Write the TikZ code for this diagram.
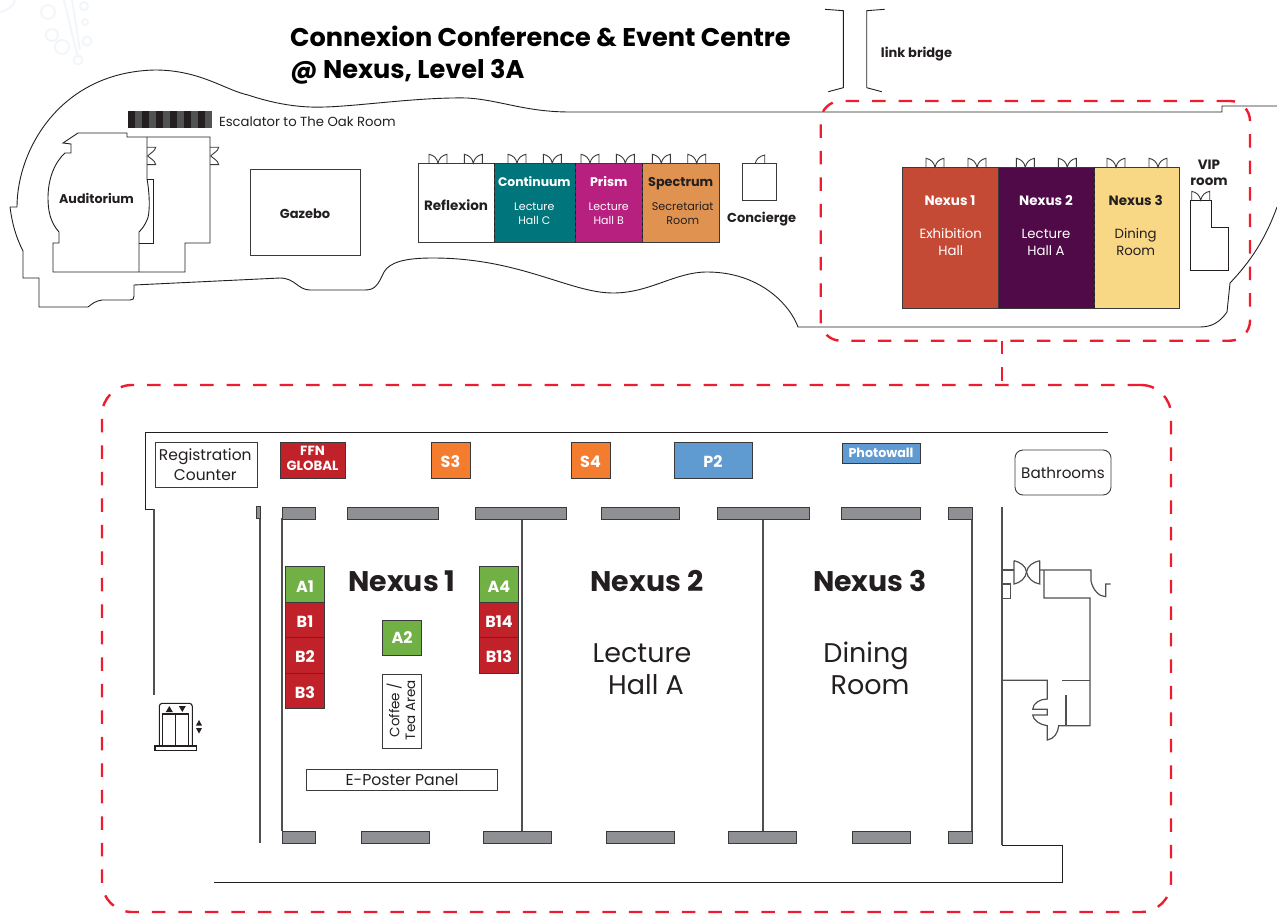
\documentclass[tikz,border=0pt]{standalone}
\usepackage{fontspec}
\setmainfont{Poppins}
\definecolor{ink}{HTML}{231F20}
\definecolor{wall}{HTML}{3A3A3C}
\definecolor{lowwall}{HTML}{505052}
\definecolor{redframe}{HTML}{ED1C2E}
\definecolor{cNexusA}{HTML}{C44A36}
\definecolor{cNexusB}{HTML}{4F0A47}
\definecolor{cNexusC}{HTML}{F8D785}
\definecolor{cCont}{HTML}{00757C}
\definecolor{cPrism}{HTML}{B82080}
\definecolor{cSpec}{HTML}{E09350}
\definecolor{cGreen}{HTML}{70B044}
\definecolor{cRed}{HTML}{C12128}
\definecolor{cOrange}{HTML}{F37C2F}
\definecolor{cBlue}{HTML}{5F9BD0}
\definecolor{cGrey}{HTML}{8F9094}
\definecolor{cFlake}{HTML}{F2F6FA}
\tikzset{
  wallline/.style={draw=lowwall,line width=1.2pt},
  thinline/.style={draw=ink,line width=0.9pt},
  boxed/.style={draw=wall,line width=0.9pt,inner sep=0pt,outer sep=0pt},
  pillar/.style={boxed,fill=cGrey},
  frame/.style={draw=redframe,line width=2.4pt,dash pattern=on 13.5pt off 13pt,inner sep=0pt,outer sep=0pt},
  lbl/.style={anchor=base,inner sep=0pt,outer sep=0pt,text=ink},
  bdoor/.pic={\draw[draw=wall,line width=0.9pt,fill=none] (0,0) -- (0,-9) .. controls (5,-8) and (8,-5) .. (9,0) .. controls (10,-5) and (13,-8) .. (18,-9) -- (18,0);},
  sdoor/.pic={\draw[draw=wall,line width=0.9pt] (0,0) -- (8.7,0) .. controls (8,4) and (3,6) .. (0.7,8.7) .. controls (3,11) and (8,13) .. (8.7,17.4) -- (0,17.4);}
}
\newcommand{\bx}[7]{\node[#6,minimum width={(#4-#2)*1pt},minimum height={(#5-#3)*1pt}] (#1) at ({(#2+#4)/2},{(#3+#5)/2}) {#7};}
\newcommand{\tx}[5]{\node[lbl,#4] (#1) at (#2,#3) {#5};}
\newcommand{\bfs}[1]{\fontsize{#1}{#1}\selectfont\bfseries}
\newcommand{\rgs}[1]{\fontsize{#1}{#1}\selectfont}
\begin{document}
\begin{tikzpicture}[x=1pt,y=-1pt]
\useasboundingbox (0,0) rectangle (1277,915);
% faint ornament
\begin{scope}[draw=cFlake,line width=2pt]
\draw (64,0) -- (78,58); \draw (72,0) -- (80,50);
\draw (48,12) circle (7); \draw (52,35) circle (6); \draw (62,47) circle (7);
\draw (87,41) circle (4.5); \draw (85,22) circle (3); \draw (84,6) circle (4); \draw (78,60) circle (4.5);
\draw (0,12) .. controls (8,10) and (14,6) .. (15,0);
\end{scope}
% building outline
\draw[thinline] (10,207) -- (17,207)
  .. controls (17,150) and (60,72) .. (155,70)
  .. controls (200,70) and (225,90) .. (248,95)
  .. controls (275,104) and (300,108) .. (325,107)
  .. controls (360,106) and (420,97) .. (467,98)
  .. controls (500,100) and (525,112) .. (570,112)
  -- (1222,112) -- (1222,106) -- (1277,106);
\draw[thinline] (1277,207) .. controls (1265,240) and (1250,262) .. (1230,283)
  -- (1227,312) .. controls (1220,322) and (1212,327) .. (1200,327) -- (798,327)
  .. controls (790,305) and (760,272) .. (707,272)
  .. controls (675,272) and (650,293) .. (613,293)
  .. controls (570,293) and (520,258) .. (433,258)
  .. controls (405,258) and (390,262) .. (384,272)
  .. controls (378,285) and (375,290) .. (365,290)
  -- (310,290) .. controls (298,290) and (295,278) .. (280,278)
  -- (134,285) -- (134,296) .. controls (134,299) and (133,300) .. (130,300)
  -- (102,300) .. controls (95,301) and (92,304) .. (88,307)
  -- (39,307) -- (39,278) -- (23,278) -- (23,251) .. controls (15,235) and (12,222) .. (10,207);
% link bridge
\draw[thinline] (825,9.3) -- (843.3,10.7) -- (843.3,87.7) -- (828.3,91.7);
\draw[thinline] (884.7,9.3) -- (866.7,10.7) -- (866.7,87.7) -- (881.7,91.7);
\tx{linkt}{916.5}{58}{}{\bfs{13}link bridge}
% auditorium block
\draw[thinline] (78,133) -- (127,133) -- (127,137) -- (210,137) -- (210,243) -- (185,243) -- (185,272) -- (53,272) -- (53,243) -- (59,243) -- (59,232)
  .. controls (50,222) and (48,210) .. (48,198) .. controls (48,178) and (55,162) .. (65,153)
  -- (71,153) -- (71,144) -- (63,143) -- cycle;
\draw[thinline] (147,137) -- (147,179) .. controls (150,195) and (150,215) .. (147,220) .. controls (145,225) and (142,229) .. (139,232) -- (139,272);
\draw[thinline] (147,179) -- (153,179) -- (153,243) -- (139,243);
\pic at (147,147.3) {sdoor};
\pic at (210,147.3) {sdoor};
\tx{audt}{96.5}{203}{}{\bfs{12.7}Auditorium}
% escalator
\foreach \i in {0,...,5} {
  \fill[ink] ({128+14*\i},111) rectangle ++(7,17);
  \fill[black!68] ({135+14*\i},111) rectangle ++(7,17);
}
\tx{esct}{219}{126.5}{anchor=base west}{\rgs{13.2}Escalator to The Oak Room}
% gazebo
\bx{gazebo}{250}{169}{360}{255}{boxed}{}
\tx{gazt}{305}{218}{}{\bfs{13}Gazebo}
% hall row
\bx{reflex}{418.3}{163.3}{494}{242}{boxed}{}
\bx{cont}{494}{163.3}{575}{242}{boxed,fill=cCont}{}
\bx{prism}{575}{163.3}{642.7}{242}{boxed,fill=cPrism}{}
\bx{spec}{642.7}{163.3}{719.3}{242}{boxed,fill=cSpec}{}
\draw[draw=ink,line width=1pt,dashed] (cont.north west) -- (cont.south west);
\draw[draw=ink,line width=1pt,dashed] (prism.north west) -- (prism.south west);
\draw[draw=ink,line width=1pt,dashed] (spec.north west) -- (spec.south west);
\foreach \x in {429,464.3,508,543.3,581,616.3,652.3,687.7} \pic at (\x,163.3) {bdoor};
\tx{reflt}{456}{210}{}{\bfs{13.5}Reflexion}
\tx{contt}{534.3}{186}{text=white}{\bfs{12.4}Continuum}
\tx{contb}{534.3}{210}{text=white}{\rgs{11}Lecture}
\tx{contc}{534.3}{224}{text=white}{\rgs{11}Hall C}
\tx{prismt}{608.7}{186}{text=white}{\bfs{12.6}Prism}
\tx{prismb}{608.7}{210}{text=white}{\rgs{11}Lecture}
\tx{prismc}{608.7}{224}{text=white}{\rgs{11}Hall B}
\tx{spect}{680.7}{186}{}{\bfs{12.8}Spectrum}
\tx{specb}{682.7}{210}{}{\rgs{11.2}Secretariat}
\tx{specc}{682.7}{224}{}{\rgs{11.2}Room}
% concierge
\bx{conc}{742.7}{163.3}{776.7}{200.7}{boxed}{}
\draw[draw=wall,line width=0.9pt] (764.7,163.3) -- (764.7,155) .. controls (760,156) and (756,159) .. (755.3,163.3);
\tx{conct}{761.7}{222}{}{\bfs{13}Concierge}
% nexus row
\bx{nxa}{902.7}{167.3}{998.3}{308.7}{boxed,fill=cNexusA}{}
\bx{nxb}{998.3}{167.3}{1094.3}{308.7}{boxed,fill=cNexusB}{}
\bx{nxc}{1094.3}{167.3}{1179.3}{308.7}{boxed,fill=cNexusC}{}
\draw[draw=ink,line width=1pt,dashed] (nxc.north west) -- (nxc.south west);
\foreach \x in {926,968,1016.3,1058.3,1107,1149} \pic at (\x,167.3) {bdoor};
\tx{nxat}{950}{205}{text=white}{\bfs{13.5}Nexus 1}
\tx{nxab}{950.7}{238.3}{text=white}{\rgs{13.3}Exhibition}
\tx{nxac}{950.7}{255}{text=white}{\rgs{13.3}Hall}
\tx{nxbt}{1046}{205}{text=white}{\bfs{13.5}Nexus 2}
\tx{nxbb}{1046}{238.3}{text=white}{\rgs{13.3}Lecture}
\tx{nxbc}{1046}{255}{text=white}{\rgs{13.3}Hall A}
\tx{nxct}{1135.7}{205}{}{\bfs{13.5}Nexus 3}
\tx{nxcb}{1135.7}{238.3}{}{\rgs{13.3}Dining}
\tx{nxcc}{1135.7}{255}{}{\rgs{13.3}Room}
% VIP
\draw[thinline] (1190.3,200.3) -- (1211,200.3) -- (1211,227.3) -- (1228.3,227.3) -- (1228.3,270) -- (1190.3,270) -- cycle;
\pic at (1191.7,200.3) {bdoor};
\tx{vipa}{1209}{169}{}{\bfs{13.5}VIP}
\tx{vipb}{1209}{185}{}{\bfs{13.5}room}
% title
\tx{titlea}{290}{47}{anchor=base west,text=black}{\bfs{25.6}Connexion Conference \& Event Centre}
\tx{titleb}{290}{79}{anchor=base west,text=black}{\bfs{25.6}@ Nexus, Level 3A}
% red frames
\bx{upframe}{820.7}{101}{1250}{340.7}{frame,rounded corners=20pt}{}
\bx{loframe}{102}{385}{1171}{912}{frame,rounded corners=30pt}{}
\coordinate (ca) at (upframe.south -| 1002,0);
\coordinate (cb) at (loframe.north -| 1002,0);
\draw[draw=redframe,line width=2.4pt,dash pattern=on 13.5pt off 13pt] (ca) -- (cb);
% lower plan walls
\draw[draw=ink,line width=1pt] (1108,432.7) -- (145.3,432.7) -- (145.3,509) -- (154,509);
\draw[wallline] (154,509) -- (154,695);
\draw[wallline] (260,507) -- (260,842.7);
\draw[wallline] (282,518) -- (282,831);
\draw[wallline] (972,507) -- (972,843);
\draw[wallline] (1002,507) -- (1002,845);
\draw[draw=ink,line width=1pt] (1002,845) -- (1062,845) -- (1062,882) -- (214,882);
\draw[wallline] (522,519) -- (522,831);
\draw[wallline] (763,519) -- (763,831);
% pillars
\bx{tp0}{256.3}{506.7}{260.3}{518.7}{pillar}{}
\bx{tp1}{282}{507}{315.7}{519}{pillar}{}
\bx{tp2}{347}{507}{438.5}{519}{pillar}{}
\bx{tp3}{475}{507}{566}{519}{pillar}{}
\bx{tp4}{601}{507}{679}{519}{pillar}{}
\bx{tp5}{717}{507}{809}{519}{pillar}{}
\bx{tp6}{841}{507}{920}{519}{pillar}{}
\bx{tp7}{948}{507}{972}{519}{pillar}{}
\bx{bp1}{282}{831}{315.3}{843}{pillar}{}
\bx{bp2}{361}{831}{429}{843}{pillar}{}
\bx{bp3}{483}{831}{551}{843}{pillar}{}
\bx{bp4}{606}{831}{674}{843}{pillar}{}
\bx{bp5}{728}{831}{796}{843}{pillar}{}
\bx{bp6}{852}{831}{910}{843}{pillar}{}
\bx{bp7}{948}{831}{972}{843}{pillar}{}
% top row boxes
\bx{reg}{155.7}{442.7}{257.3}{487.3}{boxed}{}
\tx{rega}{205.3}{460.7}{}{\rgs{15.5}Registration}
\tx{regb}{205.3}{480.7}{}{\rgs{15.5}Counter}
\bx{ffn}{280}{442.7}{345}{478.7}{boxed,fill=cRed}{}
\tx{ffna}{312.5}{455.7}{text=white}{\bfs{13.3}FFN}
\tx{ffnb}{312.5}{470.7}{text=white}{\bfs{13.3}GLOBAL}
\bx{sthree}{431}{442.7}{470}{478.7}{boxed,fill=cOrange}{}
\tx{sthreet}{450.5}{467}{text=white}{\bfs{16}S3}
\bx{sfour}{571}{442.7}{610}{478.7}{boxed,fill=cOrange}{}
\tx{sfourt}{590.5}{467}{text=white}{\bfs{16}S4}
\bx{ptwo}{674}{442.7}{752}{478.7}{boxed,fill=cBlue}{}
\tx{ptwot}{713}{467}{text=white}{\bfs{16}P2}
\bx{photo}{842}{443}{920}{463}{boxed,fill=cBlue}{}
\tx{photot}{881}{457.3}{text=white}{\bfs{12.7}Photowall}
\bx{bath}{1015}{450}{1111}{495}{boxed,rounded corners=8pt}{}
\tx{batht}{1063}{478}{}{\rgs{15.2}Bathrooms}
% exhibitor stands
\bx{aone}{285.3}{566.7}{324.3}{602.3}{boxed,fill=cGreen}{}
\bx{bone}{285.3}{602.3}{324.3}{637.7}{boxed,fill=cRed}{}
\bx{btwo}{285.3}{637.7}{324.3}{673}{boxed,fill=cRed}{}
\bx{bthree}{285.3}{673}{324.3}{708.7}{boxed,fill=cRed}{}
\bx{afour}{479.7}{566.7}{518.3}{602.3}{boxed,fill=cGreen}{}
\bx{bfourteen}{479.7}{602.3}{518.3}{637.7}{boxed,fill=cRed}{}
\bx{bthirteen}{479.7}{637.7}{518.3}{673}{boxed,fill=cRed}{}
\bx{atwo}{382.7}{620}{421.3}{655.3}{boxed,fill=cGreen}{}
\tx{aonet}{305}{592.8}{text=white}{\bfs{16}A1}
\tx{bonet}{305}{627.5}{text=white}{\bfs{16}B1}
\tx{btwot}{305}{662.5}{text=white}{\bfs{16}B2}
\tx{bthreet}{305}{698}{text=white}{\bfs{16}B3}
\tx{afourt}{499}{592.8}{text=white}{\bfs{16}A4}
\tx{bfourteent}{499}{627.5}{text=white}{\bfs{16}B14}
\tx{bthirteent}{499}{662.5}{text=white}{\bfs{16}B13}
\tx{atwot}{402}{643.2}{text=white}{\bfs{16}A2}
\bx{coffee}{382.7}{674.7}{421.3}{748.3}{boxed}{}
\tx{coffa}{399.3}{710}{rotate=90}{\rgs{13.5}Coffee /}
\tx{coffb}{415}{710}{rotate=90}{\rgs{13.5}Tea Area}
\bx{poster}{306.3}{769.3}{497.3}{790.7}{boxed}{}
\tx{postert}{402}{785.5}{}{\rgs{15.7}E-Poster Panel}
% large labels
\tx{bigA}{402}{591}{}{\bfs{28.4}Nexus 1}
\tx{bigB}{647}{591}{}{\bfs{28.4}Nexus 2}
\tx{bigC}{870}{591}{}{\bfs{28.4}Nexus 3}
\tx{bigBa}{642}{662.5}{}{\rgs{27}Lecture}
\tx{bigBb}{646}{694.5}{}{\rgs{27}Hall A}
\tx{bigCa}{866}{662.5}{}{\rgs{27}Dining}
\tx{bigCb}{870}{694.5}{}{\rgs{27}Room}
% elevator
\draw[draw=ink,line width=1.1pt,rounded corners=3pt] (159.3,746) -- (159.3,703.3) -- (192.3,703.3) -- (192.3,746);
\draw[draw=ink,line width=1.1pt] (162.7,746) -- (162.7,714) -- (188.7,714) -- (188.7,746);
\draw[draw=ink,line width=1.1pt] (175.7,714) -- (175.7,746);
\draw[draw=ink,line width=1.1pt] (155,746) rectangle (196.7,750.7);
\fill[ink] (169.3,706) -- (172.8,712) -- (165.8,712) -- cycle;
\fill[ink] (182.3,712) -- (185.8,706) -- (178.8,706) -- cycle;
\fill[ink] (199,720) -- (202,725.5) -- (196,725.5) -- cycle;
\fill[ink] (199,733.5) -- (202,728) -- (196,728) -- cycle;
% back-of-house rooms
\draw[wallline] (1002,570) -- (1014,570);
\draw[wallline] (1014,560.7) -- (1014,584) .. controls (1020,583) and (1026,578) .. (1026.5,572) .. controls (1026,566) and (1020,562) .. (1014,560.7);
\draw[wallline] (1039.7,560.7) -- (1039.7,584) .. controls (1033,583) and (1027.5,578) .. (1026.5,572) .. controls (1027.5,566) and (1033,562) .. (1039.7,560.7);
\draw[wallline] (1039.7,570) -- (1091,570) -- (1091,581) .. controls (1093,590) and (1099,596.7) .. (1105.7,596.7) -- (1105.7,584) -- (1110.7,584);
\draw[wallline] (1044,570) -- (1044,598) -- (1090,598) -- (1090,725.7) -- (1058.7,725.7) .. controls (1058,733) and (1054,739) .. (1047.3,740) -- (1047.3,725.7) .. controls (1040,725) and (1033,720) .. (1032.7,715) -- (1047.3,715) -- (1047.3,709.3) -- (1032.7,709.3) .. controls (1033,703) and (1040,699) .. (1047.3,699) -- (1047.3,680.3) -- (1002,680.3);
\draw[wallline] (1002,584) -- (1010.7,584) -- (1010.7,598.7) -- (1002,598.7);
\draw[wallline] (1062,680.3) -- (1090,680.3);
\draw[wallline] (1066,695) -- (1066,725.7);
\end{tikzpicture}
\end{document}
